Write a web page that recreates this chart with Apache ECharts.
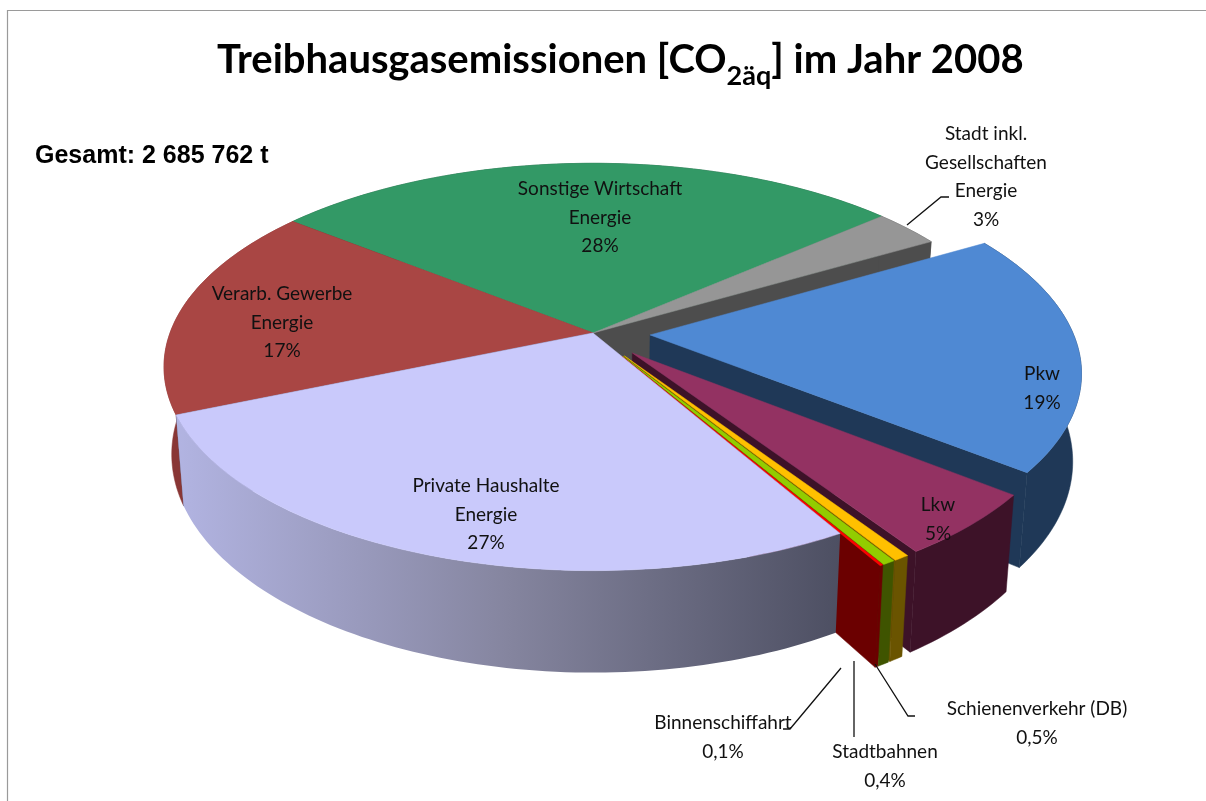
<!DOCTYPE html>
<html><head><meta charset="utf-8">
<style>html,body{margin:0;padding:0;background:#fff}#c{width:1206px;height:801px}</style>
<script src="https://cdn.jsdelivr.net/npm/echarts@6/dist/echarts.min.js"></script>
</head><body><div id="c"></div>
<script>
const categories = ['Stadt inkl. Gesellschaften Energie','Pkw','Lkw','Schienenverkehr (DB)','Stadtbahnen','Binnenschiffahrt','Private Haushalte Energie','Verarb. Gewerbe Energie','Sonstige Wirtschaft Energie'];
const shares = [3,19,5,0.5,0.4,0.1,27,17,28];
const shareLabels = ['3%','19%','5%','0,5%','0,4%','0,1%','27%','17%','28%'];
const titleText = 'Gesamt: 2 685 762 t';

// styling and projection
const topColors  = ['#969696','#4f89d3','#933262','#ffc000','#92cc00','#ff0000','#c9c9fb','#a94644','#339966'];
const sideColors = ['#4d4d4d','#1f3857','#3d1228','#6a5400','#3f5400','#6b0000','#6b6b88','#893635','#1e5a3c'];
const explode = [0,0.135,0.135,0.135,0.135,0.135,0,0,0];
const drawOrder = [8,7,0,1,2,3,4,5,6];
const cx=593, cy=333, R=423, Rt=198, persp=1/6, depth=85, shrink=0.982, startDeg=49.2;

const bounds=[]; let acc=startDeg;
shares.forEach(v=>{bounds.push([acc,acc+v*3.6]);acc+=v*3.6;});

function project(rad,r,off,low){
  const bis=off.a, X=r*Math.sin(rad)+off.d*Math.sin(bis), Y=-r*Math.cos(rad)-off.d*Math.cos(bis);
  const k=1/(1-persp*Y);
  const s=low?shrink:1;
  return [cx+R*X*k*s, cy+Rt*Y*k+(low?depth*k:0)];
}
function renderItem(params){
  const i=drawOrder[params.dataIndex];
  const a0=bounds[i][0]*Math.PI/180, a1=bounds[i][1]*Math.PI/180;
  const off={a:(a0+a1)/2,d:explode[i]};
  const n=Math.max(3,Math.ceil((a1-a0)/0.02));
  const arcT=[],arcB=[];
  for(let j=0;j<=n;j++){const a=a0+(a1-a0)*j/n;arcT.push(project(a,1,off,false));arcB.push(project(a,1,off,true));}
  const cT=project(0,0,off,false), cB=project(0,0,off,true);
  const kids=[];
  const poly=(pts,fill)=>kids.push({type:'polygon',shape:{points:pts},style:{fill:fill,stroke:typeof fill==='string'?fill:null,lineWidth:0.5}});
  // radial end face
  poly([cT,arcT[n],arcB[n],cB],sideColors[i]);
  // outer wall
  let wall=sideColors[i];
  if(i===6){
    wall=new echarts.graphic.LinearGradient(175,0,840,0,[{offset:0,color:'#b2b4e2'},{offset:0.5,color:'#85859f'},{offset:1,color:'#4d4f62'}],true);
  }
  poly(arcT.concat(arcB.slice().reverse()),wall);
  // top face
  poly([cT].concat(arcT),topColors[i]);
  return {type:'group',children:kids};
}

function label(idx,x,y,lines){
  return {type:'text',x:x,y:y,z:10,style:{text:lines.concat(shareLabels[idx]).join('\n'),fontFamily:'Lato',fontSize:19,lineHeight:28.5,fill:'#111',align:'center',verticalAlign:'top'}};
}
function leader(pts){
  return {type:'polyline',z:9,shape:{points:pts},style:{stroke:'#111',lineWidth:1.3,fill:null}};
}
const chart=echarts.init(document.getElementById('c'),null,{renderer:'canvas'});
chart.setOption({
  animation:false,
  backgroundColor:'#fff',
  title:{text:'{m|Treibhausgasemissionen [CO}{s|2äq}{m|] im Jahr 2008}',left:217,top:34,padding:0,
    textStyle:{rich:{
      m:{fontFamily:'Lato',fontWeight:'bold',fontSize:40,fill:'#000',color:'#000',height:52,verticalAlign:'top'},
      s:{fontFamily:'Lato',fontWeight:'bold',fontSize:27,color:'#000',padding:[16,0,0,0],height:52}
    }}},
  series:[{type:'custom',coordinateSystem:'none',silent:true,renderItem:renderItem,
    data:drawOrder.map(i=>({name:categories[i],value:[shares[i]]}))}],
  graphic:[
    {type:'rect',z:-1,shape:{x:7.5,y:10.5,width:1400,height:1000},style:{fill:null,stroke:'#9a9a9a',lineWidth:1.2}},
    {type:'text',x:35,y:144,z:10,style:{text:titleText,fontFamily:'Liberation Sans',fontWeight:'bold',fontSize:25,fill:'#000'}},
    label(8,600,175,['Sonstige Wirtschaft','Energie']),
    label(7,282,280,['Verarb. Gewerbe','Energie']),
    label(6,486,472,['Private Haushalte','Energie']),
    label(1,1042,360,['Pkw']),
    label(2,938,491,['Lkw']),
    label(0,986,120,['Stadt inkl.','Gesellschaften','Energie']),
    label(5,723,709,['Binnenschiffahrt']),
    label(4,885,738,['Stadtbahnen']),
    label(3,1037,695,['Schienenverkehr (DB)']),
    leader([[907,225],[941,197],[949,197]]),
    leader([[841,668],[790,729],[783,729]]),
    leader([[854,661],[854,737]]),
    leader([[875,664],[908,716],[915,716]]).constructor===Object?leader([[875,664],[908,716],[915,716]]):null
  ]
});
</script></body></html>
